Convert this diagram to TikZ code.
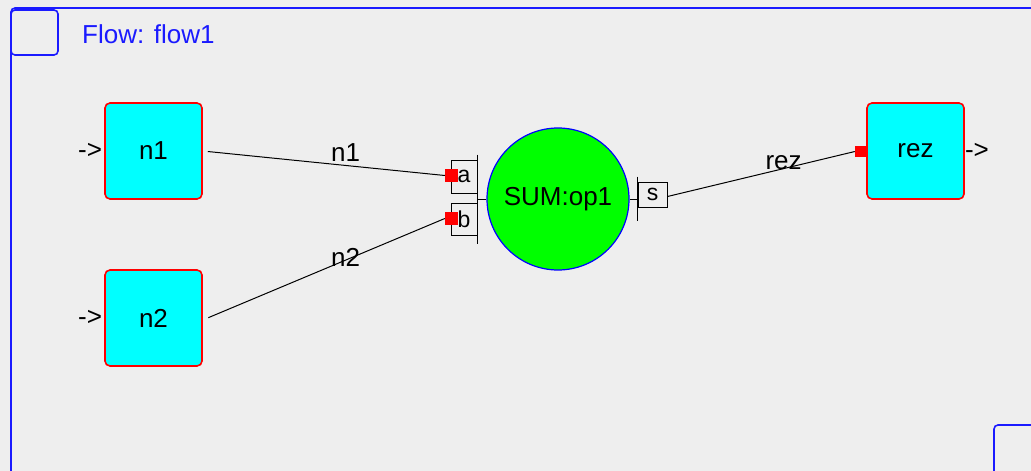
\documentclass[tikz,border=0pt]{standalone}
\usepackage{fontspec}
\setmainfont{Liberation Sans}
\definecolor{bgc}{HTML}{EEEEEE}
\definecolor{frameblue}{HTML}{1A1AFF}
\definecolor{boxcyan}{HTML}{00FFFF}
\definecolor{opgreen}{HTML}{00FF00}
\definecolor{pblue}{HTML}{0000FF}
\definecolor{pred}{HTML}{FF0000}
\begin{document}
\begin{tikzpicture}[x=1pt,y=-1pt,
  font=\fontsize{26}{30}\selectfont,
  blk/.style={draw=pred, fill=boxcyan, line width=1.6pt, rounded corners=5pt,
    minimum width=97pt, minimum height=96pt, inner sep=0pt},
  portbox/.style={draw=black, line width=1pt, inner sep=0pt,
    font=\fontsize{23}{26}\selectfont},
  redsq/.style={fill=pred, inner sep=0pt, minimum width=13pt, minimum height=13pt},
  wire/.style={draw=black, line width=1pt},
  lbl/.style={inner sep=0pt, font=\fontsize{26}{30}\selectfont},
  frm/.style={draw=frameblue, line width=1.6pt, rounded corners=4pt}]
\useasboundingbox (0,0) rectangle (1031,471);
\clip (0,0) rectangle (1031,471);
\fill[bgc] (0,0) rectangle (1031,471);
% flow frame
\draw[frm] (11,8) rectangle (1050,490);
\draw[frm] (11,10) rectangle (58,55);
\draw[frm] (994,425) rectangle (1050,490);
\node[anchor=west, text=frameblue, inner sep=0pt] (title) at (82,34) {Flow: flow1};
% blocks
\node[blk] (n1) at (153.5,151) {n1};
\node[blk] (n2) at (153.5,318) {n2};
\node[blk] (rez) at (915.5,151) {rez};
\node[anchor=east, inner sep=2pt] (in1) at (n1.west) {->};
\node[anchor=east, inner sep=2pt] (in2) at (n2.west) {->};
\node[anchor=west, inner sep=0pt] (out) at (rez.east) {->};
% operator
\node[circle, fill=opgreen, draw=pblue, line width=1.2pt, minimum size=142pt, inner sep=0pt] (op) at (558,199) {SUM:op1};
% ports
\node[portbox, minimum width=26pt, minimum height=33pt] (pa) at (464,176.5) {a};
\node[portbox, minimum width=26pt, minimum height=32pt] (pb) at (464,219) {b};
\node[portbox, minimum width=29pt, minimum height=25pt] (ps) at (652.5,194.5) {s};
\draw[wire] ([yshift=5pt]pa.north east) -- ([yshift=-8pt]pb.south east);
\draw[wire] (op.west) -- (op.west -| pa.east);
\draw[wire] ([yshift=5pt]ps.north west) -- ([yshift=-13pt]ps.south west);
\draw[wire] (op.east) -- (op.east -| ps.west);
\node[redsq] (ra) at (451.5,175.5) {};
\node[redsq] (rb) at (451.5,218.5) {};
\node[redsq, minimum width=12pt, minimum height=11pt] (rr) at (861,151.5) {};
% connectors
\draw[wire, shorten <=5pt] (n1.east) -- (ra.west)
  node[lbl, pos=0.59, anchor=south, yshift=3pt] {n1};
\draw[wire, shorten <=6pt] ([yshift=-2pt]n2.east) -- (rb.west)
  node[lbl, pos=0.59, yshift=3pt] {n2};
\draw[wire] ([yshift=-2pt]ps.east) -- (rr.west)
  node[lbl, pos=0.62, yshift=6pt] {rez};
\end{tikzpicture}
\end{document}
